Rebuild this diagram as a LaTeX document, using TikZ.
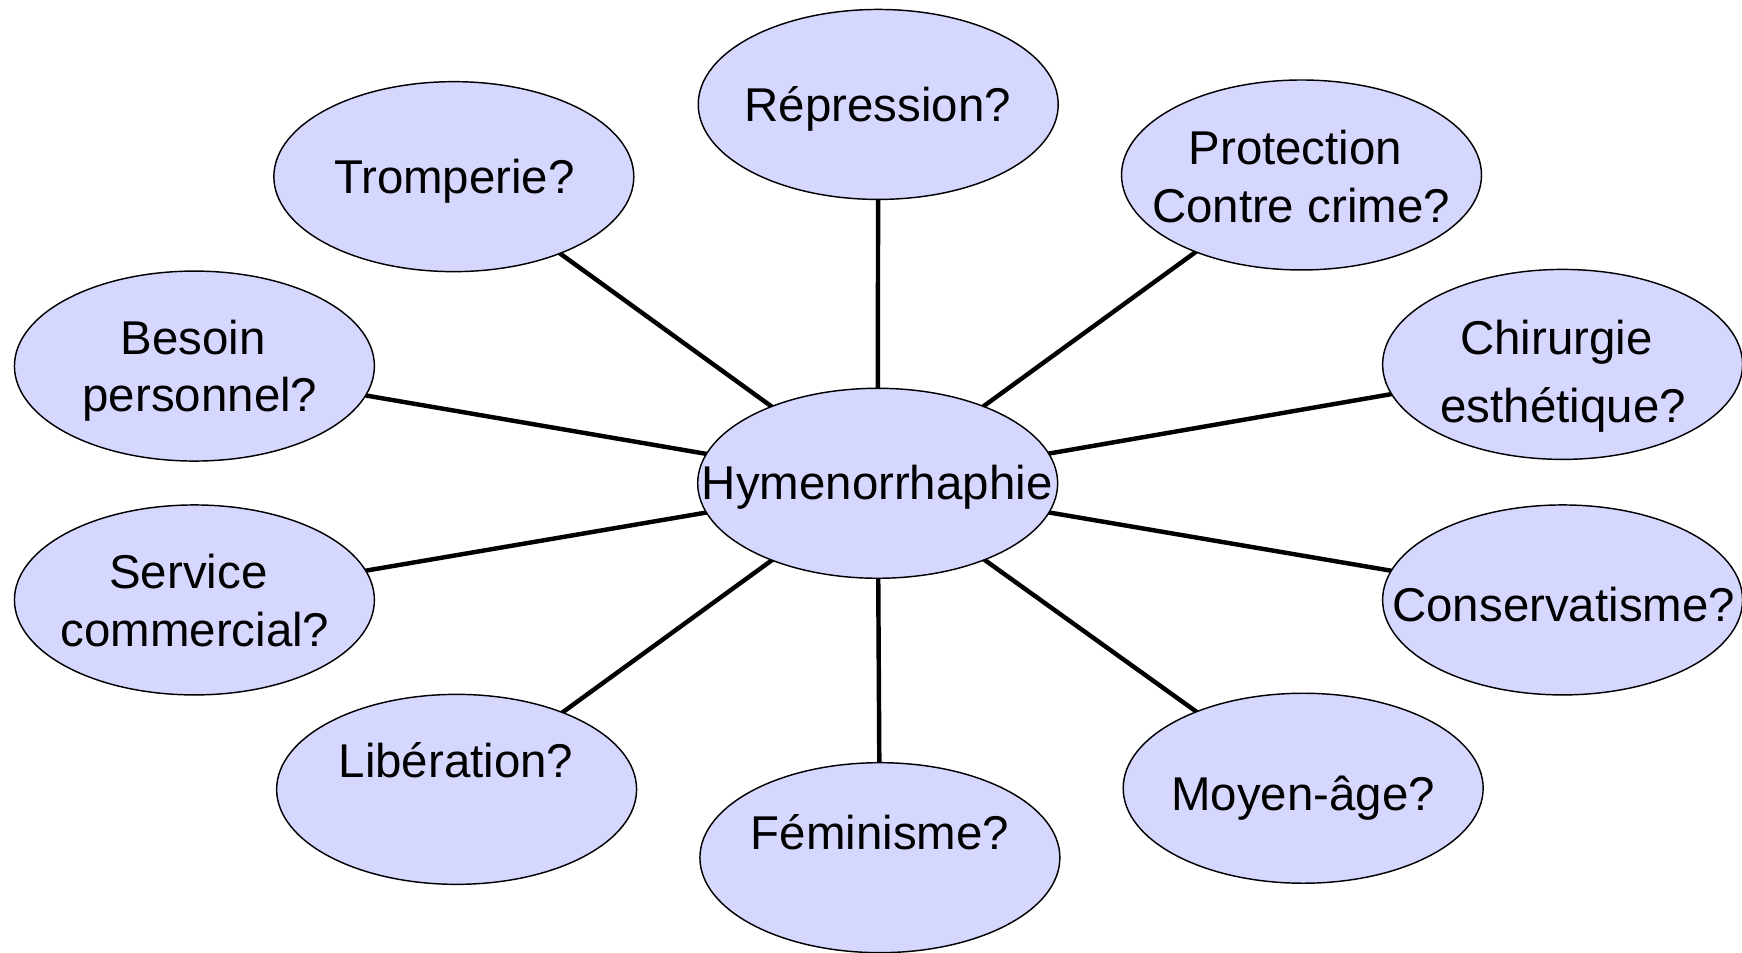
\documentclass[tikz,border=0pt]{standalone}
\usepackage{fontspec}
\setmainfont{Liberation Sans}
\usetikzlibrary{shapes.geometric,backgrounds}
\definecolor{bubble}{RGB}{213,215,255}
\begin{document}
\begin{tikzpicture}[x=1pt,y=-1pt,
  bubble/.style={ellipse,draw=black,line width=1.3pt,fill=bubble,
    minimum width=324pt,minimum height=171pt,inner sep=0pt,outer sep=0pt},
  lbl/.style={anchor=base,inner sep=0pt,font=\fontsize{42.7pt}{48pt}\selectfont},
  link/.style={line width=4pt,black}]
\useasboundingbox (0,0) rectangle (1568,857);
% ellipses
\node[bubble] (c)   at (790,435) {};
\node[bubble] (rep) at (790.5,94) {};
\node[bubble] (tro) at (408.5,159) {};
\node[bubble] (pro) at (1171.5,157.5) {};
\node[bubble] (bes) at (175,329.5) {};
\node[bubble] (chi) at (1406.5,328) {};
\node[bubble] (ser) at (175,540) {};
\node[bubble] (con) at (1406.5,540) {};
\node[bubble] (lib) at (411,710.5) {};
\node[bubble] (fem) at (792,772) {};
\node[bubble] (moy) at (1173,709.5) {};
% labels
\node[lbl] (ct)  at (789.5,449.5) {Hymenorrhaphie};
\node[lbl] (rept) at (790,109.5) {Répression?};
\node[lbl] (trot) at (409,174.5) {Tromperie?};
\node[lbl] (prot1) at (1166,148.5) {Protection};
\node[lbl] (prot2) at (1171,200.5) {Contre crime?};
\node[lbl] (best1) at (174,319.5) {Besoin};
\node[lbl] (best2) at (180,370.5) {personnel?};
\node[lbl] (chit1) at (1401,319.5) {Chirurgie};
\node[lbl] (chit2) at (1407,380.5) {esthétique?};
\node[lbl] (sert1) at (169.5,529.5) {Service};
\node[lbl] (sert2) at (175.5,581.5) {commercial?};
\node[lbl] (cont) at (1407.5,559) {Conservatisme?};
\node[lbl] (libt) at (410.5,699.5) {Libération?};
\node[lbl] (femt) at (792,764.5) {Féminisme?};
\node[lbl] (moyt) at (1173,729.5) {Moyen-âge?};
% connectors
\begin{scope}[on background layer]
\foreach \n in {rep,tro,pro,bes,chi,ser,con,lib,fem,moy}
  \draw[link] (c.center) -- (\n.center);
\end{scope}
\end{tikzpicture}
\end{document}
